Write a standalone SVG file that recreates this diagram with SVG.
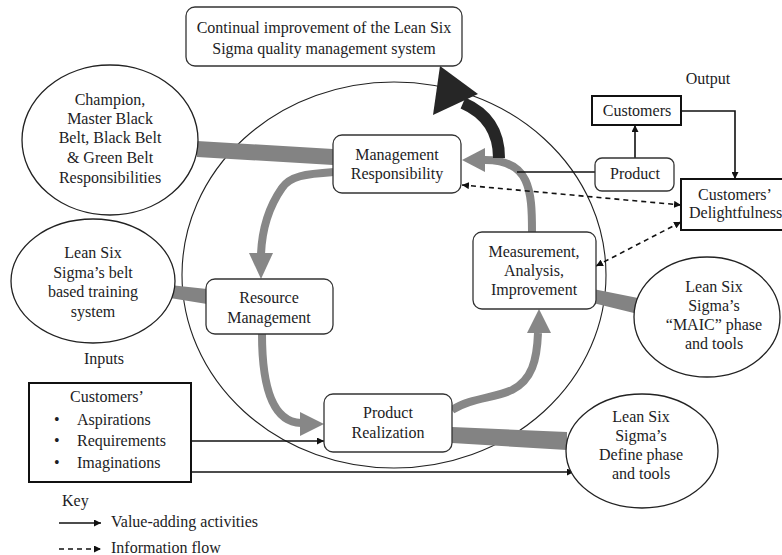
<svg xmlns="http://www.w3.org/2000/svg" width="782" height="555" viewBox="0 0 782 555">
  <defs>
    <style>
      text { font-family: "Liberation Serif", "Times New Roman", serif; font-size: 16px; fill: #1c1c24; }
      .c { text-anchor: middle; }
      .rbox { fill: #ffffff; stroke: #333333; stroke-width: 1.3; }
      .sbox { fill: #ffffff; stroke: #111111; stroke-width: 2; }
      .ell { fill: #ffffff; stroke: #222222; stroke-width: 1.3; }
      .ring { fill: none; stroke: #222222; stroke-width: 1.1; }
      .band { fill: #838383; }
      .flow { fill: none; stroke: #878787; stroke-width: 8; }
      .head { fill: #878787; }
      .solid { fill: none; stroke: #111111; stroke-width: 1.6; }
      .dash { fill: none; stroke: #111111; stroke-width: 1.6; stroke-dasharray: 5 4; }
    </style>
    <marker id="arr" viewBox="0 0 10 10" refX="10" refY="5" markerWidth="7" markerHeight="7" orient="auto" markerUnits="userSpaceOnUse">
      <path d="M0,0 L10,5 L0,10 z" fill="#111111"/>
    </marker>
    <marker id="arrStart" viewBox="0 0 10 10" refX="0" refY="5" markerWidth="7" markerHeight="7" orient="auto" markerUnits="userSpaceOnUse">
      <path d="M10,0 L0,5 L10,10 z" fill="#111111"/>
    </marker>
  </defs>

  <!-- system boundary -->
  <ellipse class="ring" cx="394" cy="275" rx="212" ry="193"/>

  <g id="connectors">
    <!-- thick gray links from the Lean Six Sigma elements -->
    <polygon class="band" points="197,141 333,149 333,165 197,157"/>
    <polygon class="band" points="170,285 207,289 207,304 170,298"/>
    <polygon class="band" points="593,289 638,298 638,314 593,303"/>
    <polygon class="band" points="452,427 567,432 567,450 452,443"/>

    <!-- PDCA-style cycle -->
    <path class="flow" d="M334,172 C305,174 290,176 282,188 C268,208 262,230 261,254"/>
    <polygon class="head" points="249,253 273,253 261,279"/>
    <path class="flow" d="M262,334 C262,380 270,422 301,423"/>
    <polygon class="head" points="300,412 300,436 324,424"/>
    <path class="flow" d="M452,410 C470,398 495,398 512,390 C532,380 537,360 538,333"/>
    <polygon class="head" points="527,333 551,333 539,309"/>
    <path class="flow" d="M532,232 C532,190 530,160 485,160"/>
    <polygon class="head" points="485,148 485,172 462,160"/>

    <!-- continual improvement -->
    <path d="M499,158 C499,130 486,113 463,103" fill="none" stroke="#262626" stroke-width="12"/>
    <polygon points="440,66 433,115 478,94" fill="#262626"/>

    <!-- value-adding flows -->
    <path class="solid" d="M191,441 L324,441" marker-end="url(#arr)"/>
    <path class="solid" d="M191,472 L574,472" marker-end="url(#arr)"/>
    <path class="solid" d="M517,172 L595,172"/>
    <path class="solid" d="M635,158 L635,125" marker-end="url(#arr)"/>
    <path class="solid" d="M681,111 L735,111 L735,179" marker-end="url(#arr)"/>

    <!-- information flows -->
    <path class="dash" d="M462,185 L681,205" marker-start="url(#arrStart)" marker-end="url(#arr)"/>
    <path class="dash" d="M596,266 L681,222" marker-start="url(#arrStart)" marker-end="url(#arr)"/>
  </g>

  <g id="top-goal">
    <rect class="rbox" x="186" y="7" width="276" height="59" rx="9"/>
    <text class="c" x="324" y="33">Continual improvement of the Lean Six</text>
    <text class="c" x="324" y="54">Sigma quality management system</text>
  </g>

  <g id="champion">
    <ellipse class="ell" cx="110" cy="140" rx="88" ry="75"/>
    <text class="c" x="110" y="105">Champion,</text>
    <text class="c" x="110" y="124">Master Black</text>
    <text class="c" x="110" y="143">Belt, Black Belt</text>
    <text class="c" x="110" y="163">&amp; Green Belt</text>
    <text class="c" x="110" y="183">Responsibilities</text>
  </g>

  <g id="belt-training">
    <ellipse class="ell" cx="93" cy="281" rx="82" ry="62"/>
    <text class="c" x="93" y="258">Lean Six</text>
    <text class="c" x="93" y="278">Sigma’s belt</text>
    <text class="c" x="93" y="297">based training</text>
    <text class="c" x="93" y="317">system</text>
  </g>

  <g id="inputs-label">
    <text class="c" x="104" y="364">Inputs</text>
  </g>

  <g id="management-responsibility">
    <rect class="rbox" x="333" y="135" width="128" height="58" rx="9"/>
    <text class="c" x="397" y="160">Management</text>
    <text class="c" x="397" y="179">Responsibility</text>
  </g>

  <g id="resource-management">
    <rect class="rbox" x="206" y="279" width="127" height="55" rx="9"/>
    <text class="c" x="269" y="303">Resource</text>
    <text class="c" x="269" y="323">Management</text>
  </g>

  <g id="product-realization">
    <rect class="rbox" x="324" y="394" width="128" height="58" rx="9"/>
    <text class="c" x="388" y="418">Product</text>
    <text class="c" x="388" y="438">Realization</text>
  </g>

  <g id="measurement">
    <rect class="rbox" x="473" y="232" width="123" height="77" rx="9"/>
    <text class="c" x="534" y="257">Measurement,</text>
    <text class="c" x="534" y="276">Analysis,</text>
    <text class="c" x="534" y="295">Improvement</text>
  </g>

  <g id="maic">
    <ellipse class="ell" cx="707" cy="317" rx="73" ry="60"/>
    <text class="c" x="714" y="292">Lean Six</text>
    <text class="c" x="714" y="311">Sigma’s</text>
    <text class="c" x="714" y="330">“MAIC” phase</text>
    <text class="c" x="714" y="349">and tools</text>
  </g>

  <g id="define">
    <ellipse class="ell" cx="642" cy="451" rx="76" ry="57"/>
    <text class="c" x="641" y="422">Lean Six</text>
    <text class="c" x="641" y="441">Sigma’s</text>
    <text class="c" x="641" y="460">Define phase</text>
    <text class="c" x="641" y="479">and tools</text>
  </g>

  <g id="customer-inputs">
    <rect class="sbox" x="29" y="383" width="162" height="99"/>
    <text class="c" x="107" y="402">Customers’</text>
    <text x="54" y="425">•</text>
    <text x="77" y="425">Aspirations</text>
    <text x="54" y="446">•</text>
    <text x="77" y="446">Requirements</text>
    <text x="54" y="468">•</text>
    <text x="77" y="468">Imaginations</text>
  </g>

  <g id="output-label">
    <text class="c" x="708" y="84">Output</text>
  </g>

  <g id="customers">
    <rect class="sbox" x="592" y="96" width="89" height="29"/>
    <text class="c" x="637" y="116">Customers</text>
  </g>

  <g id="product">
    <rect class="rbox" x="595" y="158" width="79" height="33" rx="7"/>
    <text class="c" x="635" y="179">Product</text>
  </g>

  <g id="delightfulness">
    <rect class="sbox" x="681" y="179" width="112" height="51"/>
    <text class="c" x="735" y="200">Customers’</text>
    <text x="689" y="218">Delightfulness</text>
  </g>

  <g id="key">
    <text x="62" y="506">Key</text>
    <path class="solid" d="M59,523 L101,523" marker-end="url(#arr)"/>
    <text x="111" y="527">Value-adding activities</text>
    <path class="dash" d="M59,549 L101,549" marker-end="url(#arr)"/>
    <text x="111" y="553">Information flow</text>
  </g>
</svg>
